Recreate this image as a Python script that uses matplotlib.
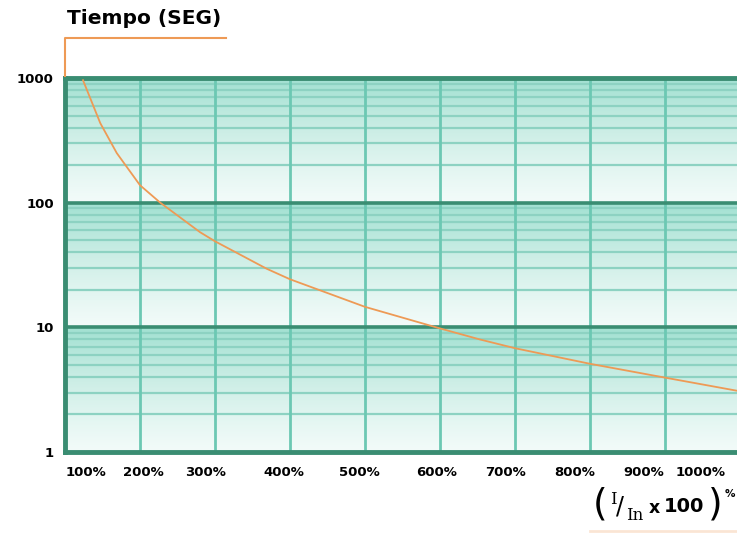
"""
Curva tiempo-corriente (Tiempo en segundos vs I/In x 100 %).
"""
import numpy as np
import matplotlib
matplotlib.use('Agg')
from matplotlib import pyplot as plt
from matplotlib.lines import Line2D
from matplotlib.colors import LinearSegmentedColormap

# curve (x in grid columns, t in seconds)
curve_x = [0.24, 0.47, 0.69, 1.0, 1.27, 1.8, 2.0, 2.69, 3.0, 4.0, 5.0, 5.53, 6.0, 7.0, 8.0, 8.96]
curve_t = [960, 435, 250, 138, 100, 58, 49, 29.5, 24.3, 14.6, 9.8, 8.0, 6.8, 5.1, 3.95, 3.1]

x_labels = ['100%', '200%', '300%', '400%', '500%', '600%', '700%', '800%', '900%', '1000%']
x_label_pos = [0.28, 1.04, 1.88, 2.92, 3.93, 4.95, 5.88, 6.79, 7.71, 8.48]
y_ticks = [1, 10, 100, 1000]
y_labels = ['1', '10', '100', '1000']

DARK = '#3a8d72'
MINOR = '#8dd2c2'
VLINE = '#6cc8b3'
ORANGE = '#ee9a55'

W, H = 737, 533
fig = plt.figure(figsize=(W / 100, H / 100), dpi=100)
x0, x1, y0, y1 = 65, 737, 78, 452
ax = fig.add_axes([x0 / W, 1 - y1 / H, (x1 - x0) / W, (y1 - y0) / H])

xmax = (x1 - x0) / 75.0
ax.set_xlim(0, xmax)
ax.set_yscale('log')
ax.set_ylim(1, 1000)

# background gradient, one band per decade
cmap = LinearSegmentedColormap.from_list('bg', ['#f2fbf9', '#cdeee6', '#a2e1d2'])
band = np.linspace(0, 1, 100) ** 1.2
grad = np.concatenate([band[::-1]] * 3)[:, None]
ax.imshow(grad, cmap=cmap, aspect='auto', extent=[0, 1, 0, 1],
          transform=ax.transAxes, zorder=0, interpolation='bilinear')

# minor horizontal lines
for dec in [1, 10, 100]:
    for m in range(2, 10):
        ax.axhline(dec * m, color=MINOR, lw=1.6, zorder=1)
# vertical lines
for i in range(1, 9):
    ax.axvline(i, color=VLINE, lw=2.0, zorder=1)
# major horizontal lines
for v in [10, 100]:
    ax.axhline(v, color=DARK, lw=2.6, zorder=2)

ax.plot(curve_x, curve_t, color=ORANGE, lw=1.3, zorder=3, solid_joinstyle='round')

for s in ['top', 'left', 'bottom']:
    ax.spines[s].set_color(DARK)
    ax.spines[s].set_linewidth(3.5)
ax.spines['right'].set_visible(False)

ax.set_yticks(y_ticks)
ax.set_yticklabels(y_labels, fontsize=9.5, fontweight='bold')
ax.yaxis.set_minor_locator(matplotlib.ticker.NullLocator())
ax.set_xticks(x_label_pos)
ax.set_xticklabels(x_labels, fontsize=9.5, fontweight='bold')
ax.tick_params(axis='y', length=0, pad=8)
ax.tick_params(axis='x', length=0, pad=10)

# orange frame around the title
fig.add_artist(Line2D([x0 / W, x0 / W, 226 / W], [1 - 76 / H, 1 - 38 / H, 1 - 38 / H],
                      color=ORANGE, lw=1.5))
fig.text(67 / W, 1 - 18 / H, 'Tiempo (SEG)', fontsize=14.5, fontweight='bold',
         ha='left', va='center')

# (I/In x 100)% label, built from pieces
def ft(x, y, s, **kw):
    fig.text(x / W, 1 - y / H, s, ha='center', va='center', **kw)

ft(600, 505, '(', fontsize=27)
ft(613, 499, 'I', fontsize=12, family='DejaVu Serif')
ft(620, 507, '/', fontsize=17)
ft(635, 515, 'In', fontsize=12, family='DejaVu Serif')
ft(654, 508, 'x', fontsize=12.5, fontweight='bold')
ft(684, 507, '100', fontsize=14, fontweight='bold')
ft(715, 505, ')', fontsize=27)
ft(730, 494, '%', fontsize=7.5, fontweight='bold')
fig.add_artist(Line2D([590 / W, 737 / W], [1 - 531 / H, 1 - 531 / H],
                      color=ORANGE, lw=2, alpha=0.25))

fig.savefig('out.png', dpi=100)
